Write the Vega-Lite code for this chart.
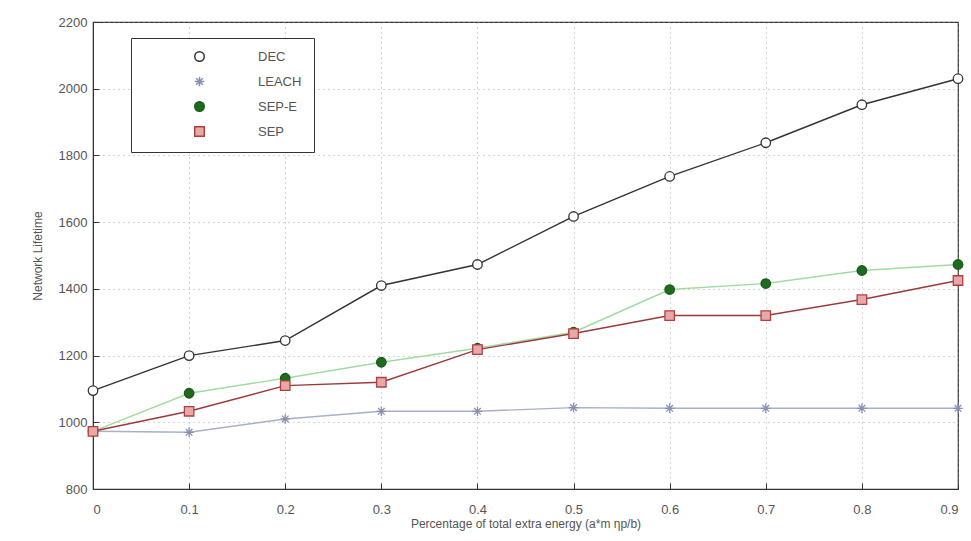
{
  "$schema": "https://vega.github.io/schema/vega-lite/v6.json",
  "width": 865,
  "height": 467,
  "autosize": "none",
  "padding": {"left": 93, "top": 22, "right": 13, "bottom": 52},
  "background": "white",
  "config": {
    "view": {"stroke": "#333333", "strokeWidth": 1.2},
    "font": "Liberation Sans",
    "axis": {
      "labelFont": "Liberation Sans",
      "titleFont": "Liberation Sans",
      "labelColor": "#555555",
      "titleColor": "#555555",
      "labelFontSize": 13,
      "titleFontSize": 12,
      "titleFontWeight": "normal",
      "grid": true,
      "gridColor": "#999999",
      "gridDash": [1, 4],
      "gridOpacity": 0.8,
      "domainColor": "#333333",
      "tickColor": "#333333",
      "tickSize": -6,
      "labelPadding": 12
    },
    "legend": {
      "orient": "none", "legendX": 38, "legendY": 16,
      "strokeColor": "#333333", "fillColor": "white",
      "padding": 12, "labelFontSize": 13, "labelColor": "#555555",
      "labelFont": "Liberation Sans", "rowPadding": 8,
      "symbolOffset": 50, "labelOffset": 52, "labelLimit": 200, "symbolSize": 90
    }
  },
  "data": {
    "values": [
      {"x": 0.0, "s": "DEC", "v": 1095},
      {"x": 0.1, "s": "DEC", "v": 1200},
      {"x": 0.2, "s": "DEC", "v": 1245},
      {"x": 0.3, "s": "DEC", "v": 1410},
      {"x": 0.4, "s": "DEC", "v": 1473},
      {"x": 0.5, "s": "DEC", "v": 1617},
      {"x": 0.6, "s": "DEC", "v": 1737},
      {"x": 0.7, "s": "DEC", "v": 1838},
      {"x": 0.8, "s": "DEC", "v": 1952},
      {"x": 0.9, "s": "DEC", "v": 2030},
      {"x": 0.0, "s": "LEACH", "v": 973},
      {"x": 0.1, "s": "LEACH", "v": 970},
      {"x": 0.2, "s": "LEACH", "v": 1010},
      {"x": 0.3, "s": "LEACH", "v": 1033},
      {"x": 0.4, "s": "LEACH", "v": 1033},
      {"x": 0.5, "s": "LEACH", "v": 1044},
      {"x": 0.6, "s": "LEACH", "v": 1042},
      {"x": 0.7, "s": "LEACH", "v": 1042},
      {"x": 0.8, "s": "LEACH", "v": 1042},
      {"x": 0.9, "s": "LEACH", "v": 1042},
      {"x": 0.0, "s": "SEP-E", "v": 973},
      {"x": 0.1, "s": "SEP-E", "v": 1087},
      {"x": 0.2, "s": "SEP-E", "v": 1132},
      {"x": 0.3, "s": "SEP-E", "v": 1180},
      {"x": 0.4, "s": "SEP-E", "v": 1222},
      {"x": 0.5, "s": "SEP-E", "v": 1270},
      {"x": 0.6, "s": "SEP-E", "v": 1398},
      {"x": 0.7, "s": "SEP-E", "v": 1416},
      {"x": 0.8, "s": "SEP-E", "v": 1455},
      {"x": 0.9, "s": "SEP-E", "v": 1473},
      {"x": 0.0, "s": "SEP", "v": 973},
      {"x": 0.1, "s": "SEP", "v": 1033},
      {"x": 0.2, "s": "SEP", "v": 1110},
      {"x": 0.3, "s": "SEP", "v": 1120},
      {"x": 0.4, "s": "SEP", "v": 1218},
      {"x": 0.5, "s": "SEP", "v": 1266},
      {"x": 0.6, "s": "SEP", "v": 1320},
      {"x": 0.7, "s": "SEP", "v": 1320},
      {"x": 0.8, "s": "SEP", "v": 1368},
      {"x": 0.9, "s": "SEP", "v": 1425}
    ]
  },
  "encoding": {
    "x": {
      "field": "x", "type": "quantitative",
      "scale": {"domain": [0, 0.9], "nice": false},
      "axis": {"values": [0, 0.1, 0.2, 0.3, 0.4, 0.5, 0.6, 0.7, 0.8, 0.9], "format": "~g", "labelPadding": 20, "title": "Percentage of total extra energy (a*m ηp/b)", "titlePadding": 2}
    },
    "y": {
      "field": "v", "type": "quantitative",
      "scale": {"domain": [800, 2200], "nice": false},
      "axis": {"values": [800, 1000, 1200, 1400, 1600, 1800, 2000, 2200], "format": "d", "title": "Network Lifetime", "titlePadding": 14}
    }
  },
  "layer": [
    {
      "transform": [{"filter": "datum.s === 'LEACH'"}],
      "mark": {"type": "line", "strokeWidth": 1.4, "color": "#a8b0c8"},
      "encoding": {}
    },
    {
      "transform": [{"filter": "datum.s === 'SEP-E'"}],
      "mark": {"type": "line", "strokeWidth": 1.4, "color": "#a0dca0"},
      "encoding": {}
    },
    {
      "transform": [{"filter": "datum.s === 'SEP'"}],
      "mark": {"type": "line", "strokeWidth": 1.4, "color": "#9a3a3a"},
      "encoding": {}
    },
    {
      "transform": [{"filter": "datum.s === 'DEC'"}],
      "mark": {"type": "line", "strokeWidth": 1.4, "color": "#333333"},
      "encoding": {}
    },
    {
      "mark": {"type": "point", "filled": true, "size": 90, "strokeWidth": 1.3, "opacity": 1},
      "encoding": {
        "shape": {
          "field": "s", "type": "nominal",
          "scale": {"domain": ["DEC", "LEACH", "SEP-E", "SEP"], "range": ["circle", "M-1,0L1,0M0,-1L0,1M-0.7,-0.7L0.7,0.7M-0.7,0.7L0.7,-0.7", "circle", "square"]},
          "legend": {"title": null}
        },
        "fill": {
          "field": "s", "type": "nominal",
          "scale": {"domain": ["DEC", "LEACH", "SEP-E", "SEP"], "range": ["#ffffff", "#8890b0", "#1e6b1e", "#e8a8a8"]},
          "legend": {"title": null}
        },
        "stroke": {
          "field": "s", "type": "nominal",
          "scale": {"domain": ["DEC", "LEACH", "SEP-E", "SEP"], "range": ["#333333", "#8890b0", "#1a5a1a", "#b04040"]},
          "legend": {"title": null}
        }
      }
    }
  ]
}
